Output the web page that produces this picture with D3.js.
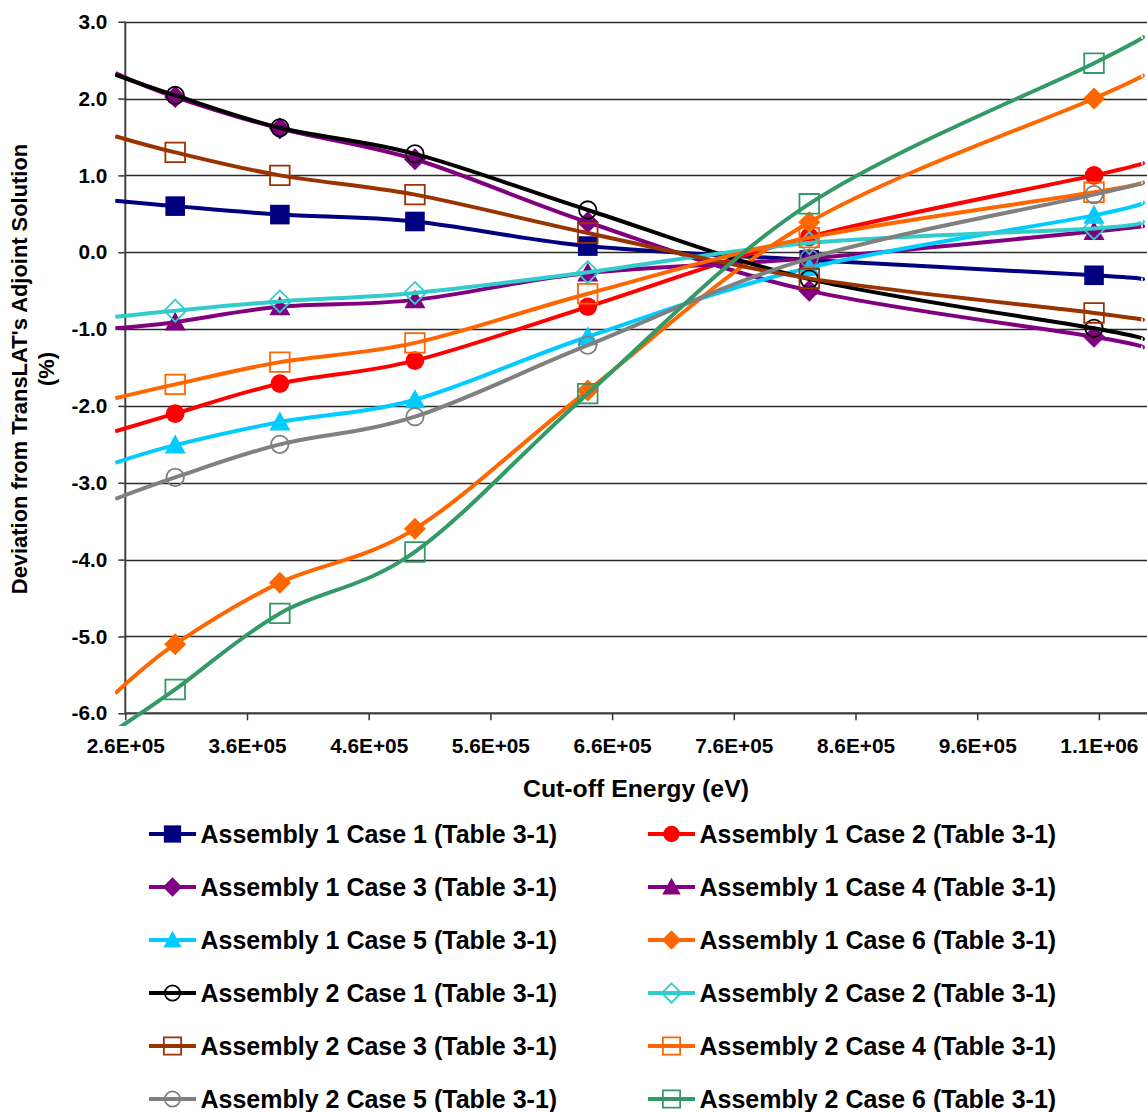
<!DOCTYPE html>
<html>
<head>
<meta charset="utf-8">
<script src="https://cdn.jsdelivr.net/npm/d3@7"></script>
<style>
  body { margin: 0; background: #fff; }
  svg { display: block; font-family: "Liberation Sans", Arial, sans-serif; font-weight: bold; }
</style>
</head>
<body>
<script>
// cut-off energies (eV); first and last entries are where the curves leave the plot area
var energy = [2.518e5, 3.01e5, 3.87e5, 4.98e5, 6.40e5, 8.22e5, 10.56e5, 10.96e5];

var yTicks = [3, 2, 1, 0, -1, -2, -3, -4, -5, -6];
var xTicks = [2.6e5, 3.6e5, 4.6e5, 5.6e5, 6.6e5, 7.6e5, 8.6e5, 9.6e5, 10.6e5];

var a1c1 = [0.67, 0.60, 0.49, 0.40, 0.08, -0.10, -0.30, -0.35];
var a1c2 = [-2.33, -2.10, -1.71, -1.41, -0.71, 0.20, 1.00, 1.16];
var a1c3 = [2.33, 2.02, 1.61, 1.21, 0.39, -0.50, -1.10, -1.24];
var a1c4 = [-0.99, -0.91, -0.71, -0.62, -0.27, -0.08, 0.27, 0.34];
var a1c5 = [-2.74, -2.51, -2.21, -1.92, -1.10, -0.20, 0.48, 0.65];
var a1c6 = [-5.74, -5.10, -4.30, -3.60, -1.80, 0.39, 2.00, 2.30];
var a2c1 = [2.31, 2.04, 1.62, 1.28, 0.55, -0.35, -0.99, -1.13];
var a2c2 = [-0.84, -0.76, -0.64, -0.53, -0.26, 0.12, 0.31, 0.40];
var a2c3 = [1.51, 1.30, 1.00, 0.75, 0.25, -0.34, -0.79, -0.88];
var a2c4 = [-1.90, -1.72, -1.43, -1.18, -0.54, 0.19, 0.78, 0.91];
var a2c5 = [-3.21, -2.93, -2.50, -2.14, -1.21, -0.08, 0.75, 0.90];
var a2c6 = [-6.22, -5.69, -4.70, -3.90, -1.84, 0.63, 2.46, 2.80];

var names = [
  "Assembly 1 Case 1 (Table 3-1)", "Assembly 1 Case 2 (Table 3-1)",
  "Assembly 1 Case 3 (Table 3-1)", "Assembly 1 Case 4 (Table 3-1)",
  "Assembly 1 Case 5 (Table 3-1)", "Assembly 1 Case 6 (Table 3-1)",
  "Assembly 2 Case 1 (Table 3-1)", "Assembly 2 Case 2 (Table 3-1)",
  "Assembly 2 Case 3 (Table 3-1)", "Assembly 2 Case 4 (Table 3-1)",
  "Assembly 2 Case 5 (Table 3-1)", "Assembly 2 Case 6 (Table 3-1)"
];
var colors = ["#000080", "#ff0000", "#800080", "#800080", "#00ccff", "#ff6600",
              "#000000", "#33cccc", "#993300", "#ff6600", "#808080", "#339966"];
var shapes = ["square", "circle", "diamond", "triangle", "triangle", "diamond",
              "circle", "diamond", "square", "square", "circle", "square"];
var filled = [true, true, true, true, true, true, false, false, false, false, false, false];
var values = [a1c1, a1c2, a1c3, a1c4, a1c5, a1c6, a2c1, a2c2, a2c3, a2c4, a2c5, a2c6];

var series = names.map(function(n, i) {
  return {name: n, color: colors[i], shape: shapes[i], filled: filled[i], values: values[i]};
});

var width = 1147, height = 1112;

var svg = d3.select("body").append("svg")
  .attr("width", width)
  .attr("height", height);

var x = d3.scaleLinear().domain([2.6e5, 11.6e5]).range([125.3, 125.3 + 9 * 121.7]);
var y = d3.scaleLinear().domain([-6, 3]).range([713.3, 21.7]);

function expFmt(d) {
  var parts = d.toExponential(1).split("e");
  var e = parts[1];
  return parts[0] + "E" + e[0] + e.slice(1).padStart(2, "0");
}

// gridlines
svg.append("g").selectAll("line")
  .data(yTicks)
  .enter().append("line")
    .attr("x1", x(2.6e5)).attr("x2", width)
    .attr("y1", function(d) { return Math.round(y(d)) + 0.5; })
    .attr("y2", function(d) { return Math.round(y(d)) + 0.5; })
    .attr("stroke", "#2a2a2a")
    .attr("stroke-width", 1.3);

// y axis
var yAxis = svg.append("g")
  .attr("transform", "translate(" + x(2.6e5) + ",0)")
  .call(d3.axisLeft(y).tickValues(yTicks).tickSize(7).tickPadding(11)
    .tickFormat(function(d) { return d.toFixed(1); }));
yAxis.select(".domain").remove();
yAxis.selectAll(".tick line").attr("stroke", "#333").attr("stroke-width", 1.5);
yAxis.selectAll("text")
  .attr("font-size", 20.8).attr("font-weight", "bold")
  .attr("font-family", "'Liberation Sans', Arial, sans-serif").attr("fill", "#000");

// x axis
var xAxis = svg.append("g")
  .attr("transform", "translate(0," + y(-6) + ")")
  .call(d3.axisBottom(x).tickValues(xTicks).tickSize(7).tickFormat(expFmt));
xAxis.select(".domain").remove();
xAxis.selectAll(".tick line").attr("stroke", "#333").attr("stroke-width", 1.5);
xAxis.selectAll("text")
  .attr("y", 39.5).attr("dy", 0)
  .attr("font-size", 20.8).attr("font-weight", "bold")
  .attr("font-family", "'Liberation Sans', Arial, sans-serif").attr("fill", "#000");

// axis lines
svg.append("line")
  .attr("x1", x(2.6e5)).attr("x2", x(2.6e5))
  .attr("y1", y(3)).attr("y2", y(-6))
  .attr("stroke", "#404040").attr("stroke-width", 2);
svg.append("line")
  .attr("x1", x(2.6e5)).attr("x2", width)
  .attr("y1", y(-6)).attr("y2", y(-6))
  .attr("stroke", "#404040").attr("stroke-width", 2);

// axis titles
svg.append("text")
  .attr("x", 636).attr("y", 796.5)
  .attr("text-anchor", "middle")
  .attr("font-size", 24.8)
  .text("Cut-off Energy (eV)");

var yTitle = svg.append("text")
  .attr("transform", "translate(0,369) rotate(-90)")
  .attr("text-anchor", "middle")
  .attr("font-size", 21.9);
yTitle.append("tspan").attr("x", 0).attr("y", 27).text("Deviation from TransLAT's Adjoint Solution");
yTitle.append("tspan").attr("x", 0).attr("y", 54).text("(%)");

// marker path
function markerPath(shape, r) {
  if (shape === "square") return "M" + (-r) + "," + (-r) + "h" + 2 * r + "v" + 2 * r + "h" + (-2 * r) + "Z";
  if (shape === "diamond") return "M0," + (-r) + "L" + r + ",0L0," + r + "L" + (-r) + ",0Z";
  return "M0," + (-r) + "L" + r + "," + (0.8 * r) + "L" + (-r) + "," + (0.8 * r) + "Z";
}

function addMarker(sel, s, scale) {
  var k = scale || 1;
  if (s.shape === "circle") {
    sel.append("circle").attr("r", (s.filled ? 9.3 : 8.7) * k);
  } else {
    var r = s.shape === "square" ? 9.8 : (s.shape === "diamond" ? 11 : 10.5);
    sel.append("path").attr("d", markerPath(s.shape, r * k));
  }
  sel.selectAll("circle, path")
    .attr("fill", s.filled ? s.color : "none")
    .attr("stroke", s.color)
    .attr("stroke-width", s.filled ? 0 : 1.8);
}

svg.append("clipPath").attr("id", "plotclip")
  .append("rect").attr("x", 115).attr("y", 8).attr("width", width - 115).attr("height", 718);

var line = d3.line()
  .x(function(d, i) { return x(energy[i]); })
  .y(function(d) { return y(d); })
  .curve(d3.curveCardinal.tension(0));

var plot = svg.append("g").attr("clip-path", "url(#plotclip)");

series.forEach(function(s) {
  plot.append("path")
    .attr("d", line(s.values))
    .attr("fill", "none")
    .attr("stroke", s.color)
    .attr("stroke-width", 4);

  var pts = s.values.slice(1, -1);
  plot.selectAll(null)
    .data(pts)
    .enter().append("g")
      .attr("transform", function(d, i) { return "translate(" + x(energy[i + 1]) + "," + y(d) + ")"; })
      .each(function() { addMarker(d3.select(this), s); });
});

// legend
var legend = svg.append("g");
series.forEach(function(s, i) {
  var col = i % 2, row = Math.floor(i / 2);
  var lx = col === 0 ? 149 : 648;
  var ly = 834 + row * 53;
  var item = legend.append("g").attr("transform", "translate(" + lx + "," + ly + ")");
  item.append("line")
    .attr("x1", 0).attr("x2", 47)
    .attr("stroke", s.color).attr("stroke-width", 4);
  var m = item.append("g").attr("transform", "translate(23.5,0)");
  addMarker(m, s, 0.88);
  item.append("text")
    .attr("x", 51.5).attr("y", 8.7)
    .attr("font-size", 25)
    .text(s.name);
});
</script>
</body>
</html>
